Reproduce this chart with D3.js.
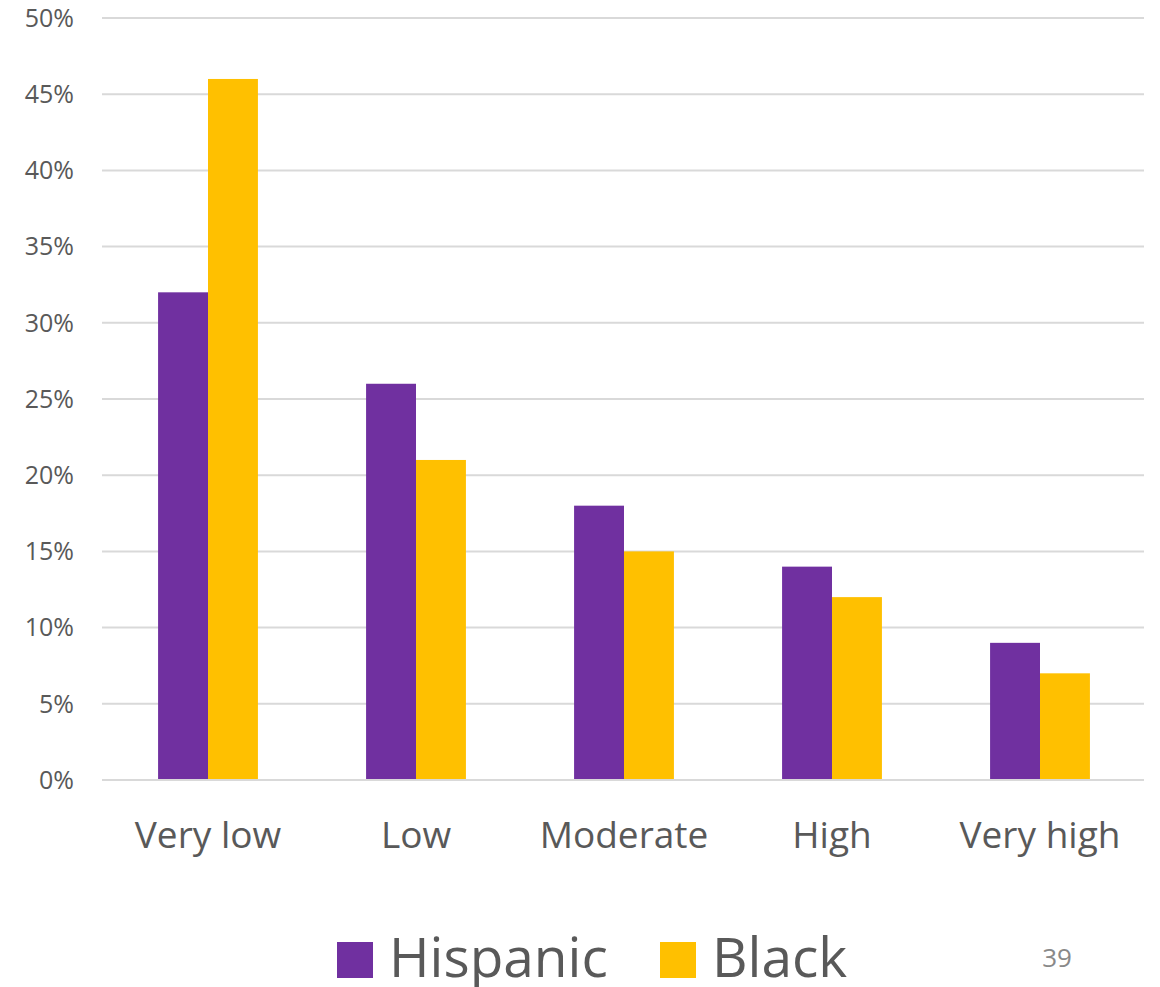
<!DOCTYPE html>
<html>
<head>
<meta charset="utf-8">
<script src="https://cdn.jsdelivr.net/npm/d3@7"></script>
<style>
  body { margin: 0; background: #fff; }
  text { font-family: "Open Sans", sans-serif; fill: #595959; }
</style>
</head>
<body>
<svg id="chart"></svg>
<script>
// Data
const categories = ["Very low", "Low", "Moderate", "High", "Very high"];
const seriesNames = ["Hispanic", "Black"];
const hispanic = [32, 26, 18, 14, 9];
const black = [46, 21, 15, 12, 7];
const yTicks = [0, 5, 10, 15, 20, 25, 30, 35, 40, 45, 50];
const colors = ["#7030A0", "#FFC000"];
const pageNumber = "39";

let width = 1160, height = 987;

const svg = d3.select("#chart")
  .attr("width", width)
  .attr("height", height);

const x = d3.scaleBand()
  .domain(categories)
  .range([104, 1144])
  .paddingInner(0.52)
  .paddingOuter(0.26);

const xSub = d3.scaleBand()
  .domain(seriesNames)
  .range([0, x.bandwidth()]);

const y = d3.scaleLinear()
  .domain([0, 50])
  .range([780, 18]);

// gridlines
svg.append("g")
  .selectAll("line")
  .data(yTicks)
  .enter()
  .append("line")
  .attr("x1", 102)
  .attr("x2", 1144)
  .attr("y1", d => y(d))
  .attr("y2", d => y(d))
  .attr("stroke", "#d9d9d9")
  .attr("stroke-width", 2);

// y labels
svg.append("g")
  .selectAll("text")
  .data(yTicks)
  .enter()
  .append("text")
  .attr("x", 74)
  .attr("y", d => y(d))
  .attr("dy", "0.35em")
  .attr("text-anchor", "end")
  .style("font-size", "25px")
  .text(d => d + "%");

// bars
const rows = categories.map((c, i) => ({ cat: c, vals: [hispanic[i], black[i]] }));

const groups = svg.append("g")
  .selectAll("g")
  .data(rows)
  .enter()
  .append("g")
  .attr("transform", d => `translate(${x(d.cat)},0)`);

groups.selectAll("rect")
  .data(d => d.vals.map((v, j) => ({ name: seriesNames[j], v: v, j: j })))
  .enter()
  .append("rect")
  .attr("x", d => xSub(d.name))
  .attr("width", xSub.bandwidth())
  .attr("y", d => y(d.v))
  .attr("height", d => y(0) - y(d.v))
  .attr("fill", d => colors[d.j]);

// redraw baseline over bars
svg.append("line")
  .attr("x1", 102).attr("x2", 1144)
  .attr("y1", y(0)).attr("y2", y(0))
  .attr("stroke", "#d9d9d9").attr("stroke-width", 2);

// x labels
svg.append("g")
  .selectAll("text")
  .data(categories)
  .enter()
  .append("text")
  .attr("x", d => x(d) + x.bandwidth() / 2)
  .attr("y", 848)
  .attr("text-anchor", "middle")
  .style("font-size", "37px")
  .text(d => d);

// legend
const legendX = [337, 660];
const legend = svg.append("g")
  .selectAll("g")
  .data(seriesNames)
  .enter()
  .append("g")
  .attr("transform", (d, i) => `translate(${legendX[i]},0)`);

legend.append("rect")
  .attr("x", 0)
  .attr("y", 942)
  .attr("width", 36)
  .attr("height", 36)
  .attr("fill", (d, i) => colors[i]);

legend.append("text")
  .attr("x", 52)
  .attr("y", 977)
  .style("font-size", "55px")
  .text(d => d);

svg.append("text")
  .attr("x", 1057)
  .attr("y", 967)
  .attr("text-anchor", "middle")
  .style("font-size", "26px")
  .style("fill", "#898989")
  .text(pageNumber);
</script>
</body>
</html>
